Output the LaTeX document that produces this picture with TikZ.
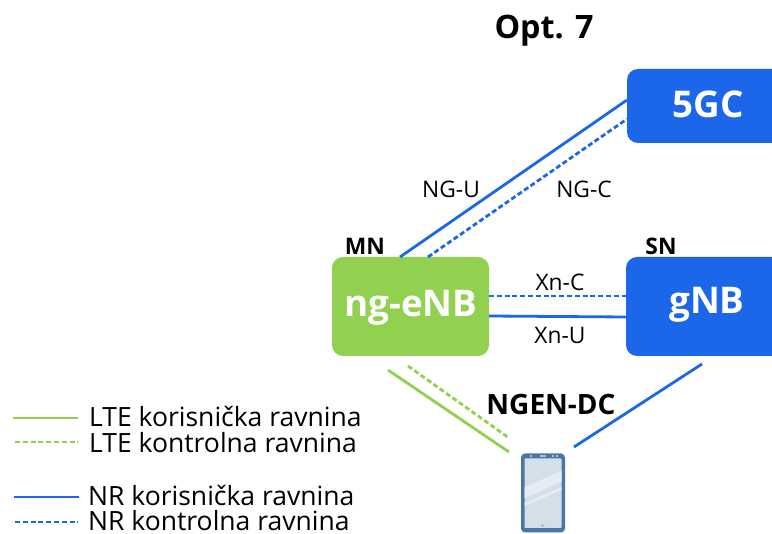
\documentclass[tikz,border=0pt]{standalone}
\usepackage{fontspec}
\setmainfont{Open Sans}
\usetikzlibrary{calc}
\definecolor{nrblue}{HTML}{1C66EA}
\definecolor{ltegreen}{HTML}{92D050}
\definecolor{phoneedge}{HTML}{4A76A8}
\definecolor{phonescreen}{HTML}{D5DFEA}
\definecolor{phoneglare}{HTML}{E6ECF3}
\tikzset{
  x=1pt,y=-1pt,
  boxtext/.style={inner sep=0pt,text=white,font=\fontsize{36.8}{37}\selectfont\bfseries},
  nrup/.style={draw=nrblue,line width=2.8pt},
  nrcp/.style={draw=nrblue,line width=2.8pt,dash pattern=on 5pt off 2.8pt},
  lteup/.style={draw=ltegreen,line width=2.8pt},
  ltecp/.style={draw=ltegreen,line width=2.8pt,dash pattern=on 5pt off 2.8pt},
  lbl/.style={inner sep=0pt,font=\fontsize{22.8}{23}\selectfont,anchor=center},
  legend/.style={inner sep=0pt,font=\fontsize{26.5}{26}\selectfont,anchor=west},
  tag/.style={inner sep=0pt,font=\fontsize{22.8}{23}\selectfont\bfseries,anchor=center},
}
\begin{document}
\begin{tikzpicture}
\useasboundingbox (0,0) rectangle (772,534);
% boxes
\begin{scope}
\clip (0,0) rectangle (772,534);
\fill[nrblue,rounded corners=11pt] (627,69) rectangle (790,143);
\fill[nrblue,rounded corners=11pt] (626,257) rectangle (790,356);
\fill[ltegreen,rounded corners=11pt] (332,257) rectangle (489,356);
\end{scope}
\node[boxtext] (core) at (708,104) {5GC};
\node[boxtext] (gnb) at (707,305) {gNB};
\node[boxtext] (enb) at (411,308) {ng-eNB};
\node[inner sep=0pt,font=\fontsize{32.3}{32}\selectfont\bfseries] (title) at (544,31) {Opt. 7};
% connector ends
\coordinate (a1) at (400,257); \coordinate (a2) at (627,100);
\coordinate (b1) at (428,257); \coordinate (b2) at (627,119);
\coordinate (c1) at (489,296); \coordinate (c2) at (626,296);
\coordinate (d1) at (489,316); \coordinate (d2) at (626,317);
\coordinate (e1) at (388,370); \coordinate (e2) at (509,452);
\coordinate (f1) at (408,366); \coordinate (f2) at (509,438);
\coordinate (g1) at (702,364); \coordinate (g2) at (574,447);
\draw[nrup] (a1) -- (a2);
\draw[nrcp] (b1) -- (b2);
\draw[nrcp] (c1) -- (c2);
\draw[nrup] (d1) -- (d2);
\draw[lteup] (e1) -- (e2);
\draw[ltecp] (f1) -- (f2);
\draw[nrup] (g1) -- (g2);
% labels
\node[lbl] (ngu) at (451,189) {NG-U};
\node[lbl] (ngc) at (584,189) {NG-C};
\node[lbl] (xnc) at (560,282) {Xn-C};
\node[lbl] (xnu) at (560,335) {Xn-U};
\node[tag] (mn) at (365,246) {MN};
\node[tag] (sn) at (661,246) {SN};
\node[inner sep=0pt,font=\fontsize{28}{28}\selectfont\bfseries] (dc) at (551,405) {NGEN-DC};
% legend
\coordinate (l1a) at (13,418); \coordinate (l1b) at (78,418);
\coordinate (l2a) at (15,442); \coordinate (l2b) at (78,442);
\coordinate (l3a) at (14,497); \coordinate (l3b) at (79,497);
\coordinate (l4a) at (15,522); \coordinate (l4b) at (78,522);
\draw[lteup] (l1a) -- (l1b);
\draw[ltecp] (l2a) -- (l2b);
\draw[nrup] (l3a) -- (l3b);
\draw[nrcp] (l4a) -- (l4b);
\node[legend] (t1) at (89,416) {LTE korisnička ravnina};
\node[legend] (t2) at (89,443) {LTE kontrolna ravnina};
\node[legend] (t3) at (88,495) {NR korisnička ravnina};
\node[legend] (t4) at (88,521) {NR kontrolna ravnina};
% phone
\fill[phoneedge,rounded corners=4pt] (521,453.5) rectangle (565,532.5);
\fill[phonescreen,rounded corners=0.8pt] (524.5,458.5) rectangle (561.5,528);
\fill[phoneglare] (524.5,487) -- (561.5,471) -- (561.5,482) -- (524.5,498) -- cycle;
\fill[phoneglare] (524.5,503) -- (561.5,487) -- (561.5,490) -- (524.5,506) -- cycle;
\fill[phonescreen!70!phoneedge] (540,454.6) rectangle (546,456.6);
\fill[phonescreen!70!phoneedge] (530,454.6) rectangle (532,456.6);
\fill[phonescreen!70!phoneedge] (552,454.6) rectangle (554,456.6);
\fill[phonescreen!70!phoneedge] (556,454.6) rectangle (558,456.6);
\draw[phonescreen!60!phoneedge,line width=0.5pt] (542.5,525.5) circle (1.3pt);
\end{tikzpicture}
\end{document}
